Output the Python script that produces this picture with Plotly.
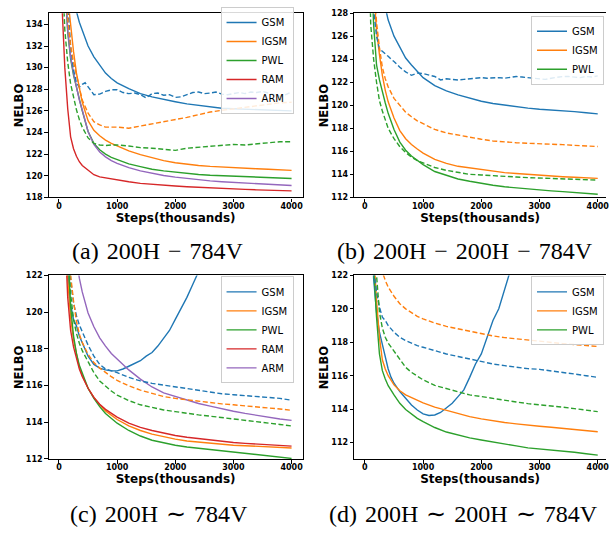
import plotly.graph_objects as go

# ---------------- data ----------------
STEPS = [0, 50, 100, 150, 200, 250, 300, 350, 400, 500, 600, 700, 800, 900, 1000,
         1200, 1400, 1600, 1800, 2000, 2200, 2400, 2600, 2800, 3000, 3200, 3400,
         3600, 3800, 4000]
STEPS_FINE = [0, 50, 100, 150, 200, 250, 300, 350, 400, 450, 500, 600, 700, 800,
              900, 1000, 1100, 1200, 1300, 1400, 1500, 1600, 1700, 1800, 1900, 2000,
              2100, 2200, 2300, 2400, 2500, 2600, 2700, 2800, 2900, 3000, 3100, 3200,
              3300, 3400, 3500, 3600, 3700, 3800, 3900, 4000]
STEPS_RISE = [0, 50, 100, 150, 200, 250, 300, 350, 400, 450, 500, 600, 700, 800,
              900, 1000, 1100, 1200, 1300, 1400, 1500, 1600, 1700, 1800, 1900, 2000,
              2100, 2200, 2300, 2400, 2500]

# (a) 200H - 784V
A_GSM = [175, 165, 155, 148, 142, 138, 135.2, 134.2, 133.4, 132.0, 131.0, 130.2, 129.5,
         129.0, 128.6, 128.05, 127.6, 127.3, 127.05, 126.85, 126.65, 126.5, 126.35,
         126.25, 126.2, 126.15, 126.1, 126.05, 126.0, 126.0]
A_GSM_DASH = [170, 155, 143, 136, 132, 129.8, 128.6, 128.2, 128.45, 128.6, 128.2, 127.5,
              127.55, 127.8, 127.95, 127.95, 127.7, 127.6, 127.65, 127.5, 127.2, 127.6,
              127.65, 127.45, 127.5, 127.25, 127.3, 127.5, 127.7, 127.75, 127.6, 127.65,
              127.75, 127.55, 127.5, 127.6, 127.7, 127.6, 127.75, 127.7, 127.8, 127.65,
              127.5, 127.35, 127.5, 127.75]
A_IGSM = [170, 152, 141, 136.5, 133.8, 131.5, 129.5, 128.0, 126.8, 125.1, 124.2, 123.7,
          123.3, 123.0, 122.75, 122.3, 121.95, 121.65, 121.4, 121.2, 121.05, 120.95,
          120.87, 120.8, 120.75, 120.7, 120.65, 120.6, 120.55, 120.5]
A_IGSM_DASH = [170, 153, 140, 134.5, 132.0, 130.5, 129.3, 128.0, 127.0, 125.8, 125.0,
               124.7, 124.5, 124.5, 124.5, 124.4, 124.6, 124.8, 124.95, 125.2, 125.4,
               125.65, 125.9, 126.05, 126.2, 126.35, 126.5, 126.6, 126.75, 126.8]
A_PWL = [165, 148, 138, 133.3, 130.8, 129.3, 128.1, 126.9, 126.0, 124.1, 123.0, 122.4,
         122.0, 121.7, 121.5, 121.1, 120.85, 120.6, 120.45, 120.32, 120.22, 120.12,
         120.05, 120.0, 119.97, 119.93, 119.9, 119.85, 119.8, 119.75]
A_PWL_DASH = [165, 140, 133.5, 130.5, 128.5, 127.2, 126.1, 125.2, 124.5, 123.5, 123.0,
              122.85, 122.8, 122.85, 122.85, 122.75, 122.6, 122.55, 122.45, 122.35,
              122.55, 122.65, 122.7, 122.85, 122.9, 122.85, 122.95, 123.05, 123.15, 123.15]
A_RAM = [160, 136, 130, 126.2, 123.6, 122.5, 121.8, 121.3, 120.95, 120.5, 120.1, 119.9,
         119.8, 119.72, 119.65, 119.45, 119.3, 119.2, 119.12, 119.05, 118.98, 118.92,
         118.87, 118.82, 118.78, 118.74, 118.7, 118.66, 118.63, 118.6]
A_ARM = [165, 148, 138, 133.5, 131.0, 129.5, 128.2, 127.0, 126.1, 124.1, 122.9, 122.2,
         121.75, 121.4, 121.15, 120.75, 120.45, 120.22, 120.03, 119.88, 119.75, 119.62,
         119.53, 119.45, 119.4, 119.35, 119.3, 119.25, 119.18, 119.1]

# (b) 200H - 200H - 784V
B_GSM = [170, 160, 150, 143, 137, 133, 130, 128.5, 127.4, 126.0, 125.0, 124.1, 123.5,
         122.9, 122.4, 121.7, 121.25, 120.9, 120.6, 120.35, 120.15, 120.0, 119.85,
         119.75, 119.65, 119.6, 119.55, 119.45, 119.35, 119.25]
B_GSM_DASH = [165, 150, 134, 128.3, 126.0, 124.9, 124.7, 124.5, 124.25, 124.0, 123.8,
              123.3, 122.9, 122.6, 122.8, 122.75, 122.65, 122.5, 122.2, 122.3, 122.25,
              122.2, 122.25, 122.3, 122.35, 122.4, 122.35, 122.4, 122.4, 122.35, 122.45,
              122.5, 122.45, 122.4, 122.35, 122.3, 122.25, 122.35, 122.45, 122.5, 122.5,
              122.45, 122.4, 122.5, 122.45, 122.55]
B_IGSM = [170, 150, 136, 130, 126.5, 124.4, 122.6, 121.3, 120.3, 118.9, 117.8, 117.1,
          116.6, 116.2, 115.85, 115.3, 114.95, 114.7, 114.55, 114.4, 114.25, 114.15,
          114.08, 114.0, 113.95, 113.88, 113.8, 113.75, 113.7, 113.65]
B_IGSM_DASH = [170, 150, 138, 131, 127.2, 125.0, 123.3, 122.3, 121.6, 120.6, 120.0,
               119.4, 119.0, 118.65, 118.4, 117.9, 117.6, 117.4, 117.2, 117.05, 116.9,
               116.8, 116.75, 116.7, 116.68, 116.62, 116.58, 116.52, 116.47, 116.42]
B_PWL = [165, 145, 133, 127.0, 123.5, 122.2, 121.1, 120.2, 119.3, 117.9, 116.8, 116.1,
         115.6, 115.2, 114.85, 114.25, 113.9, 113.6, 113.4, 113.2, 113.05, 112.92,
         112.82, 112.72, 112.65, 112.57, 112.5, 112.44, 112.37, 112.28]
B_PWL_DASH = [160, 138, 127.0, 124.0, 122.0, 120.4, 119.5, 118.7, 118.0, 117.1, 116.4,
              115.9, 115.5, 115.2, 115.0, 114.6, 114.35, 114.15, 114.0, 113.95, 113.87,
              113.82, 113.77, 113.72, 113.68, 113.64, 113.6, 113.57, 113.53, 113.5]

# (c) 200H ~ 784V
C_GSM = [160, 140, 128, 122.2, 120.4, 119.6, 119.25, 118.7, 118.3, 117.9, 117.6, 117.15,
         116.95, 116.85, 116.8, 116.8, 116.9, 117.05, 117.2, 117.35, 117.6, 117.8,
         118.15, 118.55, 119.0, 119.6, 120.2, 120.8, 121.5, 122.2, 122.9]
C_GSM_DASH = [160, 140, 130, 124.5, 121.8, 120.5, 119.8, 119.3, 118.9, 118.2, 117.6,
              117.15, 116.9, 116.8, 116.7, 116.45, 116.25, 116.12, 116.02, 115.92,
              115.82, 115.72, 115.63, 115.55, 115.5, 115.45, 115.42, 115.38, 115.3, 115.2]
C_IGSM = [155, 135, 126, 121.8, 119.7, 118.5, 117.65, 117.0, 116.55, 115.85, 115.35,
          114.95, 114.62, 114.37, 114.15, 113.8, 113.55, 113.35, 113.2, 113.08, 112.98,
          112.92, 112.85, 112.8, 112.75, 112.72, 112.69, 112.66, 112.63, 112.6]
C_IGSM_DASH = [160, 140, 130, 125, 122.0, 120.6, 119.5, 118.8, 118.35, 117.7, 117.25,
               116.95, 116.7, 116.48, 116.28, 115.98, 115.75, 115.56, 115.4, 115.3,
               115.22, 115.15, 115.07, 115.0, 114.95, 114.9, 114.84, 114.78, 114.72, 114.65]
C_PWL = [160, 140, 130, 123.5, 120.3, 118.7, 117.75, 117.1, 116.65, 115.85, 115.3,
         114.85, 114.48, 114.2, 113.95, 113.55, 113.25, 113.02, 112.87, 112.75, 112.65,
         112.58, 112.5, 112.42, 112.35, 112.28, 112.22, 112.16, 112.1, 112.03]
C_PWL_DASH = [158, 138, 128, 123.5, 121.0, 119.6, 118.85, 118.3, 117.9, 117.3, 116.7,
              116.25, 115.95, 115.7, 115.48, 115.18, 114.95, 114.8, 114.67, 114.58,
              114.48, 114.4, 114.33, 114.26, 114.2, 114.13, 114.06, 113.98, 113.88, 113.8]
C_RAM = [150, 132, 124.5, 120.8, 119.0, 118.1, 117.45, 116.9, 116.5, 115.85, 115.35,
         114.98, 114.7, 114.47, 114.28, 113.95, 113.72, 113.55, 113.4, 113.28, 113.18,
         113.1, 113.03, 112.96, 112.9, 112.85, 112.81, 112.77, 112.73, 112.7]
C_ARM = [170, 155, 142, 133, 127, 124.0, 122.8, 121.85, 121.1, 119.95, 119.2, 118.6,
         118.15, 117.75, 117.45, 116.85, 116.35, 115.92, 115.6, 115.4, 115.22, 115.02,
         114.88, 114.72, 114.6, 114.48, 114.37, 114.27, 114.18, 114.1]

# (d) 200H ~ 200H ~ 784V
D_GSM = [160, 140, 128, 121.8, 119.8, 118.6, 117.8, 117.05, 116.4, 115.9, 115.55, 115.05,
         114.65, 114.25, 113.95, 113.72, 113.62, 113.65, 113.8, 114.05, 114.35, 114.75,
         115.15, 115.9, 116.7, 117.3, 118.3, 119.3, 120.0, 121.1, 122.3]
D_GSM_DASH = [155, 138, 127, 122.4, 121.0, 120.1, 119.5, 119.3, 119.0, 118.6, 118.3,
              118.1, 117.95, 117.8, 117.7, 117.5, 117.3, 117.15, 117.0, 116.85, 116.7,
              116.6, 116.5, 116.42, 116.38, 116.3, 116.2, 116.1, 116.0, 115.9]
D_IGSM = [160, 140, 130, 123.5, 120.5, 118.3, 116.95, 116.4, 116.0, 115.45, 115.1,
          114.85, 114.68, 114.5, 114.38, 114.12, 113.92, 113.72, 113.55, 113.42, 113.3,
          113.2, 113.12, 113.03, 112.98, 112.92, 112.86, 112.8, 112.72, 112.65]
D_IGSM_DASH = [170, 155, 142, 133, 127, 124.0, 122.2, 121.7, 121.3, 120.75, 120.3,
               120.0, 119.75, 119.55, 119.4, 119.15, 118.95, 118.8, 118.65, 118.5,
               118.38, 118.28, 118.2, 118.12, 118.05, 117.98, 117.92, 117.86, 117.8, 117.75]
D_PWL = [158, 138, 128, 122.5, 119.5, 117.3, 116.3, 115.8, 115.4, 114.85, 114.35,
         113.98, 113.7, 113.45, 113.25, 112.9, 112.63, 112.45, 112.28, 112.15, 112.02,
         111.9, 111.8, 111.68, 111.62, 111.56, 111.5, 111.42, 111.33, 111.25]
D_PWL_DASH = [160, 145, 133, 126, 122.0, 119.8, 118.85, 118.3, 117.95, 117.45, 116.95,
              116.5, 116.2, 115.95, 115.75, 115.42, 115.22, 115.02, 114.85, 114.75,
              114.63, 114.53, 114.43, 114.33, 114.27, 114.2, 114.12, 114.03, 113.94, 113.85]

CAPTIONS = ["(a)\u2004200H\u2004\u2212\u2004784V",
            "(b)\u2004200H\u2004\u2212\u2004200H\u2004\u2212\u2004784V",
            "(c)\u2004200H\u2004\u223c\u2004784V",
            "(d)\u2004200H\u2004\u223c\u2004200H\u2004\u223c\u2004784V"]
X_TICKS = [0, 1000, 2000, 3000, 4000]
X_TITLE = "Steps(thousands)"
Y_TITLE = "NELBO"

COLORS = {"GSM": "#1f77b4", "IGSM": "#ff7f0e", "PWL": "#2ca02c",
          "RAM": "#d62728", "ARM": "#9467bd"}

# ---------------- figure ----------------
W, H = 609, 538
fig = go.Figure()

panels = [
    ("", "legend", [("GSM", STEPS, A_GSM), ("IGSM", STEPS, A_IGSM), ("PWL", STEPS, A_PWL),
                    ("RAM", STEPS, A_RAM), ("ARM", STEPS, A_ARM)],
     [("GSM", STEPS_FINE, A_GSM_DASH), ("IGSM", STEPS, A_IGSM_DASH), ("PWL", STEPS, A_PWL_DASH)]),
    ("2", "legend2", [("GSM", STEPS, B_GSM), ("IGSM", STEPS, B_IGSM), ("PWL", STEPS, B_PWL)],
     [("GSM", STEPS_FINE, B_GSM_DASH), ("IGSM", STEPS, B_IGSM_DASH), ("PWL", STEPS, B_PWL_DASH)]),
    ("3", "legend3", [("GSM", STEPS_RISE, C_GSM), ("IGSM", STEPS, C_IGSM), ("PWL", STEPS, C_PWL),
                      ("RAM", STEPS, C_RAM), ("ARM", STEPS, C_ARM)],
     [("GSM", STEPS, C_GSM_DASH), ("IGSM", STEPS, C_IGSM_DASH), ("PWL", STEPS, C_PWL_DASH)]),
    ("4", "legend4", [("GSM", STEPS_RISE, D_GSM), ("IGSM", STEPS, D_IGSM), ("PWL", STEPS, D_PWL)],
     [("GSM", STEPS, D_GSM_DASH), ("IGSM", STEPS, D_IGSM_DASH), ("PWL", STEPS, D_PWL_DASH)]),
]

LW = 1.4
for suf, leg, solids, dashes in panels:
    for name, xs, ys in solids:
        fig.add_trace(go.Scatter(x=xs, y=ys, mode="lines", name=name,
                                 line=dict(color=COLORS[name], width=LW),
                                 xaxis="x" + suf, yaxis="y" + suf, legend=leg,
                                 showlegend=True, hoverinfo="skip"))
    for name, xs, ys in dashes:
        fig.add_trace(go.Scatter(x=xs, y=ys, mode="lines", name=name + " (dashed)",
                                 line=dict(color=COLORS[name], width=LW, dash="5px,2.5px"),
                                 xaxis="x" + suf, yaxis="y" + suf, legend=leg,
                                 showlegend=False, hoverinfo="skip"))

tickfont = dict(family="DejaVu Sans", size=8, color="black", weight="bold")
xtitle = dict(text=X_TITLE, font=dict(family="DejaVu Sans", size=12,
                                      color="black", weight="bold"), standoff=2)

def xax(domain, rng, anchor):
    return dict(domain=domain, range=rng, anchor=anchor, tickvals=X_TICKS,
                ticks="outside", ticklen=3.5, tickwidth=1, tickcolor="black",
                showline=True, linecolor="black", linewidth=1.2, mirror=True,
                showgrid=False, zeroline=False, tickfont=tickfont, title=xtitle,
                ticklabelstandoff=-3, ticklabeloverflow="allow", fixedrange=True)

def yax(domain, rng, anchor, ticks, mirror=True):
    return dict(domain=domain, range=rng, anchor=anchor, tickvals=ticks,
                ticks="outside", ticklen=3.5, tickwidth=1, tickcolor="black",
                showline=True, linecolor="black", linewidth=1.2, mirror=mirror,
                showgrid=False, zeroline=False, tickfont=tickfont,
                ticklabeloverflow="allow", fixedrange=True)

XL = [49 / W, 304 / W]
XR = [356 / W, 1.0]
YT = [1 - 196.7 / H, 1 - 9.3 / H]
YB = [1 - 462.7 / H, 1 - 276 / H]

legend_style = dict(bgcolor="rgba(255,255,255,0.85)", bordercolor="#cccccc", borderwidth=1,
                    font=dict(family="DejaVu Sans", size=10, color="black"),
                    xanchor="right", yanchor="top", itemwidth=30, tracegroupgap=0)

fig.update_layout(
    width=W, height=H, margin=dict(l=0, r=0, t=0, b=0),
    paper_bgcolor="white", plot_bgcolor="white",
    xaxis=xax(XL, [-176, 4188], "y"),
    yaxis=yax(YT, [118, 135.04], "x", [118, 120, 122, 124, 126, 128, 130, 132, 134]),
    xaxis2=xax(XR, [-183, 4142], "y2"),
    yaxis2=yax(YT, [112, 128], "x2", [112, 114, 116, 118, 120, 122, 124, 126, 128], mirror=False),
    xaxis3=xax(XL, [-176, 4188], "y3"),
    yaxis3=yax(YB, [112, 122], "x3", [112, 114, 116, 118, 120, 122]),
    xaxis4=xax(XR, [-183, 4142], "y4"),
    yaxis4=yax(YB, [111.02, 122], "x4", [112, 114, 116, 118, 120, 122], mirror=False),
    legend=dict(x=295 / W, y=1 - 3 / H, **legend_style),
    legend2=dict(x=607 / W, y=1 - 12 / H, **legend_style),
    legend3=dict(x=295 / W, y=1 - 277 / H, **legend_style),
    legend4=dict(x=607 / W, y=1 - 277 / H, **legend_style),
    showlegend=True,
)

# y-axis titles (rotated), centred on each panel's y domain
for cx, dom in [(19, YT), (325.7, YT), (19, YB), (325.7, YB)]:
    fig.add_annotation(text=Y_TITLE, x=cx / W, y=(dom[0] + dom[1]) / 2, xref="paper",
                       yref="paper", xanchor="center", yanchor="middle", showarrow=False,
                       textangle=-90,
                       font=dict(family="DejaVu Sans", size=11.5, color="black", weight="bold"))

cap_pos = [(158.5, 251), (467.5, 251), (159.5, 519), (466, 519)]
for text, (cx, cy) in zip(CAPTIONS, cap_pos):
    fig.add_annotation(text=text, x=cx / W, y=1 - cy / H, xref="paper", yref="paper",
                       xanchor="center", yanchor="middle", showarrow=False,
                       font=dict(family="Liberation Serif", size=24, color="black"))

fig.write_html("out.html", config={"displayModeBar": False},
               post_script="document.body.style.margin='0px';")
